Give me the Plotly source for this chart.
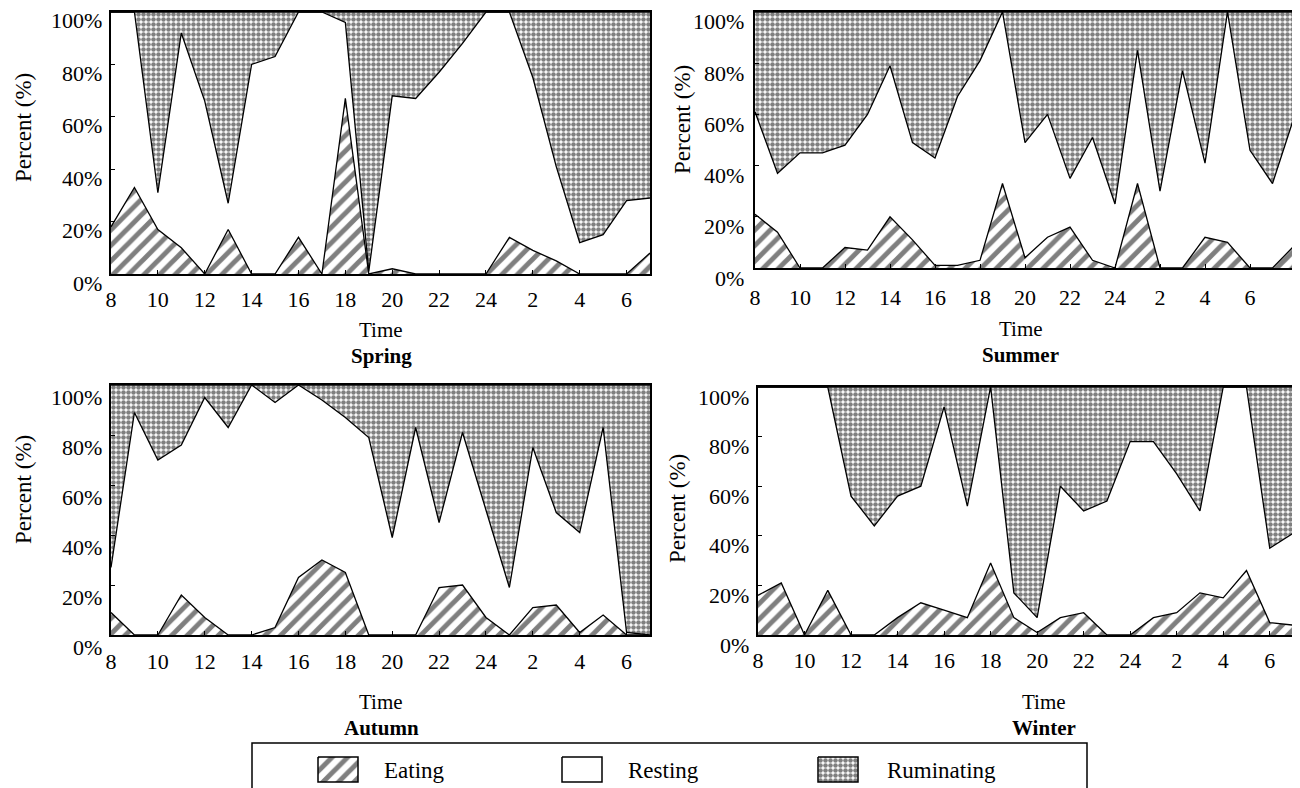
import plotly.graph_objects as go

# ---------------- data (percent of observations) ----------------
hours_24 = ["8", "9", "10", "11", "12", "13", "14", "15", "16", "17", "18", "19",
            "20", "21", "22", "23", "24", "1", "2", "3", "4", "5", "6", "7"]
hours_25 = hours_24 + ["8"]
tick_labels = ["8", "10", "12", "14", "16", "18", "20", "22", "24", "2", "4", "6"]
y_tick_values = [0, 20, 40, 60, 80, 100]
y_tick_labels = ["0%", "20%", "40%", "60%", "80%", "100%"]
behaviours = ["Eating", "Resting", "Ruminating"]

spring_eating = [18, 33, 17, 10, 0, 17, 0, 0, 14, 0, 67, 0, 2, 0, 0, 0, 0, 14, 9, 5, 0, 0, 0, 8]
spring_resting = [82, 67, 14, 82, 66, 10, 80, 83, 86, 100, 29, 1, 66, 67, 77, 88, 100, 86, 66, 36, 12, 15, 28, 21]
spring_ruminating = [0, 0, 69, 8, 34, 73, 20, 17, 0, 0, 4, 99, 32, 33, 23, 12, 0, 0, 25, 59, 88, 85, 72, 71]

summer_eating = [21, 14, 0, 0, 8, 7, 20, 11, 1, 1, 3, 33, 4, 12, 16, 3, 0, 33, 0, 0, 12, 10, 0, 0, 9]
summer_resting = [40, 23, 45, 45, 40, 53, 59, 38, 42, 66, 78, 67, 45, 48, 19, 48, 25, 52, 30, 77, 29, 90, 46, 33, 51]
summer_ruminating = [39, 63, 55, 55, 52, 40, 21, 51, 57, 33, 19, 0, 51, 40, 65, 49, 75, 15, 70, 23, 59, 0, 54, 67, 40]

autumn_eating = [9, 0, 0, 16, 7, 0, 0, 3, 23, 30, 25, 0, 0, 0, 19, 20, 7, 0, 11, 12, 1, 8, 0, 0]
autumn_resting = [18, 89, 70, 60, 88, 83, 100, 90, 77, 64, 62, 79, 39, 83, 26, 61, 43, 19, 64, 37, 40, 75, 1, 0]
autumn_ruminating = [73, 11, 30, 24, 5, 17, 0, 7, 0, 6, 13, 21, 61, 17, 55, 19, 50, 81, 25, 51, 59, 17, 99, 100]

winter_eating = [16, 21, 0, 18, 0, 0, 7, 13, 10, 7, 29, 7, 1, 7, 9, 0, 0, 7, 9, 17, 15, 26, 5, 4]
winter_resting = [84, 79, 100, 82, 56, 44, 49, 47, 82, 45, 71, 10, 6, 53, 41, 54, 78, 71, 56, 33, 85, 74, 30, 37]
winter_ruminating = [0, 0, 0, 0, 44, 56, 44, 40, 8, 48, 0, 83, 93, 40, 50, 46, 22, 22, 35, 50, 0, 0, 65, 59]

seasons = [
    ("Spring", hours_24, spring_eating, spring_resting, spring_ruminating),
    ("Summer", hours_25, summer_eating, summer_resting, summer_ruminating),
    ("Autumn", hours_24, autumn_eating, autumn_resting, autumn_ruminating),
    ("Winter", hours_24, winter_eating, winter_resting, winter_ruminating),
]

# ---------------- layout geometry (screen pixels) ----------------
SCREEN_W, SCREEN_H = 1300, 788
OFF = 8                      # default page margin around the plot div
W, H = SCREEN_W - OFF, SCREEN_H - OFF

panels = [  # (left, right, top, bottom) of each plot area
    (111, 650, 12, 274),
    (755, 1295, 12, 268),
    (111, 650, 385, 635),
    (758, 1293, 387, 635),
]
x_label_standoff = [5, 9, 6, 5]
y_label_drop = [9, 10, 12, 10]       # y tick labels sit slightly below their ticks
y_label_gap = [8, 10, 8, 8]
label_x = [381, 1021, 381, 1044]
label_split_y = [343, 342, 715, 715]
ytitle_pos = [(23, 128), (683, 120), (23, 490), (677, 509)]

legend_box = (252, 1087, 743, 810)
swatch_x = [318, 562, 818]
swatch_y = (757, 782)
swatch_w = 40
legend_text_x = [382, 626, 885]
legend_text_y = 770

FONT = "Liberation Serif"


def px(x):
    return (x - OFF) / W


def py(y):
    return 1 - (y - OFF) / H


EAT_PAT = dict(shape="/", fgcolor="black", bgcolor="white", size=11, solidity=0.45)
RUM_PAT = dict(shape=".", fgcolor="black", bgcolor="white", size=5, solidity=0.65)
styles = {
    "Eating": dict(fillpattern=EAT_PAT, fillcolor="white"),
    "Resting": dict(fillcolor="white"),
    "Ruminating": dict(fillpattern=RUM_PAT, fillcolor="white"),
}

fig = go.Figure()

for k, (name, hrs, eat, rest, rum) in enumerate(seasons):
    ax = "" if k == 0 else str(k + 1)
    xs = list(range(len(hrs)))
    for sname, vals in zip(behaviours, (eat, rest, rum)):
        fig.add_trace(go.Scatter(
            x=xs, y=vals, name=sname, mode="lines",
            stackgroup="g%d" % k,
            line=dict(color="black", width=1.3),
            xaxis="x" + ax, yaxis="y" + ax,
            showlegend=False,
            hovertext=[h + ":00" for h in hrs],
            **styles[sname],
        ))
    l, r, t, b = panels[k]
    fig.layout["xaxis" + ax] = dict(
        domain=[px(l), px(r)], anchor="y" + ax,
        range=[0, len(hrs) - 1],
        tickvals=list(range(0, 24, 2)), ticktext=tick_labels,
        ticks="inside", ticklen=4, tickcolor="black",
        showline=True, mirror=True, linecolor="black", linewidth=1.5,
        showgrid=False, zeroline=False,
        ticklabelstandoff=x_label_standoff[k], ticklabeloverflow="allow",
        tickfont=dict(family=FONT, size=22, color="black"),
    )
    fig.layout["yaxis" + ax] = dict(
        domain=[py(b), py(t)], anchor="x" + ax,
        range=[0, 100],
        tickvals=y_tick_values,
        ticks="inside", ticklen=4, tickcolor="black",
        showline=True, mirror=True, linecolor="black", linewidth=1.5,
        showgrid=False, zeroline=False,
        showticklabels=False,
    )
    # y tick labels, placed on the axis scale and nudged below their ticks
    for v, lab in zip(y_tick_values, y_tick_labels):
        fig.add_annotation(x=0, xref="x%s domain" % ax, y=v, yref="y" + ax,
                           text=lab, showarrow=False, xanchor="right", yanchor="middle",
                           xshift=-y_label_gap[k], yshift=-y_label_drop[k], borderpad=0,
                           font=dict(family=FONT, size=22, color="black"))
    fig.add_annotation(x=px(label_x[k]), y=py(label_split_y[k]), xref="paper", yref="paper",
                       text="Time", showarrow=False, xanchor="center", yanchor="bottom",
                       borderpad=0,
                       font=dict(family=FONT, size=21, color="black"))
    fig.add_annotation(x=px(label_x[k]), y=py(label_split_y[k]), xref="paper", yref="paper",
                       text="<b>%s</b>" % name, showarrow=False, xanchor="center", yanchor="top",
                       borderpad=0,
                       font=dict(family=FONT, size=21, color="black"))
    fig.add_annotation(x=px(ytitle_pos[k][0]), y=py(ytitle_pos[k][1]), xref="paper", yref="paper",
                       text="Percent (%)", showarrow=False, textangle=-90,
                       xanchor="center", yanchor="middle",
                       font=dict(family=FONT, size=23, color="black"))

# ---------------- legend (drawn on its own hidden axis, in screen pixel units) ----------------
lx0, lx1, ly0, ly1 = legend_box
fig.layout["xaxis5"] = dict(domain=[0, 1], range=[OFF, SCREEN_W], visible=False,
                            anchor="y5", fixedrange=True)
fig.layout["yaxis5"] = dict(domain=[0, 1], range=[SCREEN_H, OFF], visible=False,
                            anchor="x5", fixedrange=True)
sw_y0, sw_y1 = swatch_y
for sname, sx in zip(behaviours, swatch_x):
    fig.add_trace(go.Scatter(
        x=[sx, sx + swatch_w, sx + swatch_w, sx, sx],
        y=[sw_y0, sw_y0, sw_y1, sw_y1, sw_y0],
        mode="lines", fill="toself", line=dict(color="black", width=1.5),
        xaxis="x5", yaxis="y5", showlegend=False, hoverinfo="skip",
        **styles[sname],
    ))
for sname, tx in zip(behaviours, legend_text_x):
    fig.add_annotation(x=px(tx), y=py(legend_text_y), xref="paper", yref="paper",
                       text=sname, showarrow=False, xanchor="left", yanchor="middle",
                       font=dict(family=FONT, size=23, color="black"))

fig.add_shape(type="rect", xref="paper", yref="paper",
              x0=px(lx0), x1=px(lx1), y0=py(ly1), y1=py(ly0),
              line=dict(color="black", width=1.5), fillcolor="rgba(0,0,0,0)")

fig.update_layout(
    width=W, height=H,
    margin=dict(l=0, r=0, t=0, b=0, autoexpand=False),
    paper_bgcolor="white", plot_bgcolor="rgba(0,0,0,0)",
    font=dict(family=FONT, color="black"),
    showlegend=False,
)

fig.write_html("out.html")
